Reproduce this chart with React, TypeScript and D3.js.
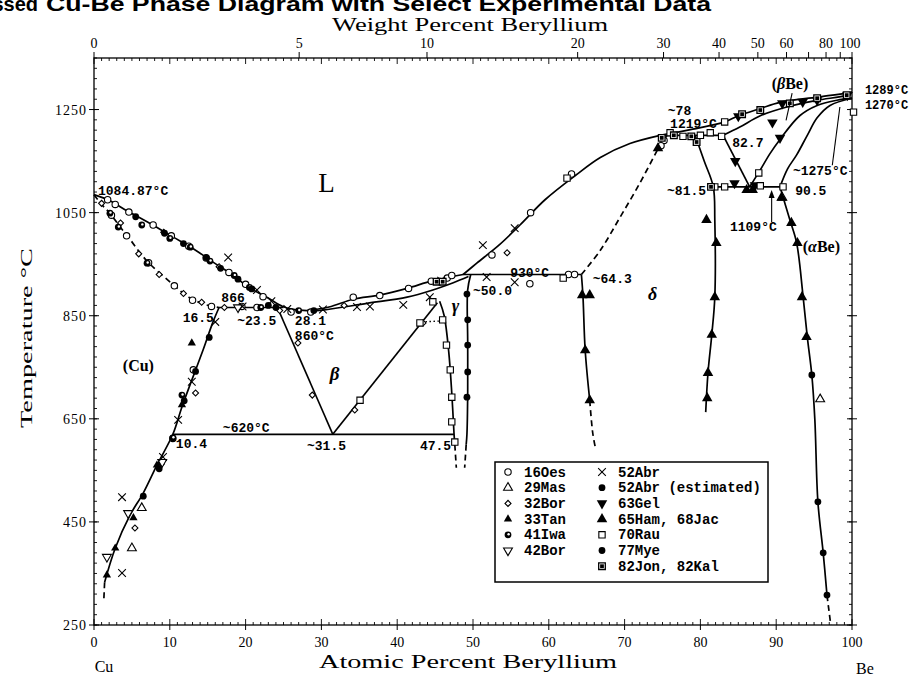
import * as d3 from "d3";

// ---- axes ----
const tempTicks = [250, 450, 650, 850, 1050, 1250];
const atTicks = [0, 10, 20, 30, 40, 50, 60, 70, 80, 90, 100];
const wtLabelTicks = [0, 5, 10, 20, 30, 40, 50, 60, 80, 100];
const wtExtraTicks = [70, 90];

// ---- phase boundaries [at.% Be, °C] ----
const cuLiquidus = [[0, 1084.87], [2.1, 1073], [4.4, 1053], [7.4, 1029], [10.4, 1003], [13.1, 980], [15.7, 954], [18.3, 929], [20.5, 904], [22.8, 886], [24.9, 868], [26.5, 862], [28.1, 860]];
const betaLiquidus = [[28.1, 860], [31, 867], [34.2, 882], [37.7, 890], [41.3, 903], [44.7, 918], [48.7, 930]];
const midLiquidus = [[48.7, 930], [50.5, 952], [53.5, 988], [56.2, 1026], [59.5, 1075], [63.5, 1122], [66.8, 1157], [70.7, 1184], [74.7, 1200]];
const beLiquidus = [[74.7, 1200], [79, 1212], [83.2, 1226], [85, 1238], [87.9, 1252], [90.5, 1264], [95.4, 1274], [99.3, 1282], [100, 1284]];
const betaSolidus = [[28.1, 860], [30.2, 861], [36, 874], [41.3, 886], [44.7, 900], [47.4, 914], [49.4, 926]];
const cuSolidus = [[0, 1084.87], [1, 1066], [2.1, 1049], [3.4, 1023], [4.4, 1005], [7, 956], [10.4, 911], [12.5, 886], [14.6, 872], [16.5, 866]];
const cuSolvus = [[1.4, 333], [2.8, 399], [4.75, 463], [6.5, 506], [8.3, 560], [10.4, 620], [11.6, 673], [12.9, 725], [14.4, 784], [15.7, 838], [16.5, 866]];
const cuSolvusLow = [[1.4, 333], [1.3, 300]];
const peritectic866 = [[16.5, 866], [25, 866]];
const betaLeft = [[24.2, 866], [31.5, 620]];
const betaRight = [[31.5, 620], [45.3, 875]];
const eutectoid620 = [[10.4, 620], [47.5, 620]];
const gammaLeft = [[45.6, 878], [46.2, 850], [46.8, 780], [47.2, 700], [47.5, 620], [47.6, 600]];
const gammaLeftLow = [[47.6, 600], [47.8, 555]];
const gammaRight = [[49.7, 930], [49.3, 900], [49.3, 800], [49.3, 700], [49.2, 620], [49.1, 600]];
const gammaRightLow = [[49.1, 600], [48.9, 555]];
const tieLine = [[43.2, 838], [46.1, 840]];
const peritectic930 = [[48.7, 930], [64.3, 930]];
const deltaLeft = [[64.3, 930], [64.5, 890], [64.8, 783], [65.4, 686]];
const deltaLeftLow = [[65.4, 686], [65.8, 622], [66.2, 590]];
const deltaSolidusDash = [[64.3, 930], [66.8, 977], [69.4, 1041], [72, 1107], [74.3, 1171]];
const deltaSolidusTop = [[74.3, 1171], [75.6, 1200]];
const peritectic1219 = [[74.7, 1200], [83.0, 1200]];
const deltaRight = [[79.3, 1200], [80.5, 1150], [81.7, 1100], [81.9, 1036], [81.9, 886], [81.5, 813], [81.0, 739], [80.7, 663]];
const eutectoid1109 = [[81.7, 1100], [90.5, 1100]];
const betaBeLeft = [[83.0, 1200], [86.5, 1100]];
const betaBeRight = [[86.5, 1100], [87.9, 1133], [89.2, 1165], [90.5, 1192], [93.1, 1238], [95.4, 1258], [98, 1268], [100, 1272]];
const alphaBeUpper = [[90.5, 1100], [91.5, 1135], [92.7, 1162], [94.1, 1200], [95.4, 1234], [97.1, 1258], [100, 1272]];
const alphaBeSolvus = [[90.5, 1100], [91.8, 1036], [92.7, 991], [93.5, 894], [94.1, 809], [94.7, 735], [95.1, 648], [95.5, 489], [96.2, 390], [96.7, 308]];
const alphaBeSolvusLow = [[96.7, 308], [97.2, 250]];
const betaBeSolidus = [[83.0, 1200], [85.2, 1216], [87.9, 1238], [91.4, 1255], [95.4, 1268], [99.3, 1278], [100, 1284]];

// ---- experimental points [at.% Be, °C] ----
const oes16 = [[1.8, 1075], [2.8, 1066], [4.6, 1051], [7.8, 1026], [10.2, 1005], [12.5, 985], [14.8, 962], [17.8, 934], [20.0, 911], [22.3, 887], [2.3, 1045], [4.3, 1005], [7.2, 953], [10.6, 908], [13.0, 880], [15.5, 868], [19.5, 868], [21.5, 866], [26.0, 857], [28.6, 857], [34.2, 886], [37.7, 889], [41.5, 903], [44.5, 917], [13.1, 745], [10.4, 612], [57.5, 912], [62.6, 930], [63.4, 930], [52.5, 968], [57.6, 1050], [63.0, 1125], [75.2, 1190], [46.6, 923], [47.2, 928], [74.8, 1180]];
const mas29 = [[6.3, 477], [5.0, 399], [95.8, 688], [90.8, 1079]];
const bor32 = [[13.4, 700], [5.4, 438], [26.9, 797], [28.8, 696], [43.4, 836], [34.4, 667], [54.5, 972], [1.0, 1068], [3.5, 1030], [5.9, 970], [8.6, 930], [11.8, 893], [14.2, 876], [9.2, 1012], [16.5, 945], [17.2, 866], [24.5, 860], [33.0, 870]];
const tan33 = [[12.9, 797], [2.8, 399], [1.7, 347], [11.6, 677], [8.3, 560], [5.2, 458]];
const iwa41 = [[6.3, 1026], [10.0, 1000], [12.7, 983], [15.3, 956], [2.1, 1049], [3.2, 1022], [7.0, 952], [10.4, 613], [11.6, 696], [8.9, 565], [22.0, 866], [27.0, 860], [18.5, 928], [20.5, 905]];
const bor42 = [[1.7, 382], [4.5, 467], [9.0, 566], [19.0, 866]];
const abr52 = [[17.7, 963], [21.5, 900], [23.4, 878], [3.7, 498], [3.7, 351], [9.1, 576], [11.1, 648], [12.9, 722], [16.0, 838], [30.2, 862], [34.7, 867], [36.4, 868], [40.8, 871], [44.3, 886], [51.3, 987], [55.5, 1020], [51.8, 925], [55.5, 915], [45.8, 918], [25.5, 863], [19.6, 868]];
const abr52est = [[5.5, 1042], [9.3, 1010], [11.8, 990], [14.8, 963], [16.7, 942], [19.0, 921], [20.8, 902], [6.5, 500], [8.6, 553], [11.9, 685], [13.4, 742], [15.2, 808], [23.0, 870], [24.0, 866], [29.0, 860]];
const gel63 = [[85.0, 1237], [90.8, 1262], [95.4, 1268], [90.5, 1195], [84.6, 1150], [84.5, 1107], [87.2, 1103], [89.5, 1225], [99.4, 1278], [93.5, 1265]];
const ham65 = [[64.4, 890], [65.4, 890], [64.8, 783], [65.4, 686], [80.8, 1036], [82.1, 991], [81.9, 886], [81.5, 813], [81.0, 739], [80.9, 690], [90.7, 1079], [92.0, 1030], [92.8, 991], [93.4, 886], [94.0, 809], [86.1, 1094], [86.9, 1094], [74.4, 1175]];
const rau70 = [[35.1, 686], [43.0, 836], [46.0, 842], [46.5, 793], [47.0, 745], [47.2, 692], [47.2, 644], [47.6, 605], [44.7, 877], [61.9, 923], [62.4, 1117], [76.0, 1205], [77.7, 1198], [80.0, 1200], [81.3, 1205], [82.8, 1198], [81.9, 1100], [83.2, 1100], [87.9, 1102], [90.9, 1100], [83.2, 1226], [87.7, 1127], [100.2, 1245]];
const mye77 = [[49.2, 892], [49.3, 842], [49.3, 793], [49.3, 741], [49.2, 692], [94.7, 735], [95.5, 489], [96.2, 390], [96.7, 308]];
const jon82 = [[87.9, 1249], [95.4, 1272], [99.3, 1278], [79.5, 1187], [76.5, 1200], [78.8, 1198], [81.4, 1100], [45.2, 916], [46.0, 916], [85.5, 1241], [91.8, 1262], [74.9, 1195]];

const solidLines = [cuLiquidus, betaLiquidus, midLiquidus, beLiquidus, betaSolidus, cuSolvus, peritectic866, betaLeft, betaRight, eutectoid620, gammaLeft, gammaRight, peritectic930, deltaLeft, deltaSolidusTop, peritectic1219, deltaRight, eutectoid1109, betaBeLeft, betaBeRight, alphaBeUpper, alphaBeSolvus, betaBeSolidus];
const dashedLines = [cuSolidus, cuSolvusLow, gammaLeftLow, gammaRightLow, deltaLeftLow, deltaSolidusDash, alphaBeSolvusLow];

const series = [
  { name: "16Oes", sym: "circleOpen", data: oes16, col: 0 },
  { name: "29Mas", sym: "triUpOpen", data: mas29, col: 0 },
  { name: "32Bor", sym: "diamondOpen", data: bor32, col: 0 },
  { name: "33Tan", sym: "triUpSmall", data: tan33, col: 0 },
  { name: "41Iwa", sym: "circleHalf", data: iwa41, col: 0 },
  { name: "42Bor", sym: "triDownOpen", data: bor42, col: 0 },
  { name: "52Abr", sym: "cross", data: abr52, col: 1 },
  { name: "52Abr (estimated)", sym: "circleFilled", data: abr52est, col: 1 },
  { name: "63Gel", sym: "triDownFilled", data: gel63, col: 1 },
  { name: "65Ham, 68Jac", sym: "triUpFilled", data: ham65, col: 1 },
  { name: "70Rau", sym: "squareOpen", data: rau70, col: 1 },
  { name: "77Mye", sym: "circleFilled", data: mye77, col: 1 },
  { name: "82Jon, 82Kal", sym: "squareHalf", data: jon82, col: 1 },
];

const wtToAt = (w: number) => {
  const be = w / 9.012, cu = (100 - w) / 63.546;
  return (100 * be) / (be + cu);
};

function Marker({ sym, cx, cy }: { sym: string; cx: number; cy: number }) {
  const p = (type: any, size: number) => d3.symbol().type(type).size(size)() as string;
  const t = `translate(${cx},${cy})`;
  const sw = 1.1;
  switch (sym) {
    case "circleOpen":
      return <circle cx={cx} cy={cy} r={3.2} fill="#fff" stroke="#000" strokeWidth={sw} />;
    case "circleFilled":
      return <circle cx={cx} cy={cy} r={3.4} fill="#000" />;
    case "circleHalf":
      return <g><circle cx={cx} cy={cy} r={3.4} fill="#000" /><circle cx={cx + 0.6} cy={cy - 0.6} r={1.2} fill="#fff" /></g>;
    case "triUpOpen":
      return <path d={p(d3.symbolTriangle, 34)} transform={t} fill="#fff" stroke="#000" strokeWidth={sw} />;
    case "triDownOpen":
      return <path d={p(d3.symbolTriangle, 34)} transform={`${t} rotate(180)`} fill="#fff" stroke="#000" strokeWidth={sw} />;
    case "triUpSmall":
      return <path d={p(d3.symbolTriangle, 30)} transform={t} fill="#000" />;
    case "triUpFilled":
      return <path d={p(d3.symbolTriangle, 48)} transform={t} fill="#000" />;
    case "triDownFilled":
      return <path d={p(d3.symbolTriangle, 48)} transform={`${t} rotate(180)`} fill="#000" />;
    case "diamondOpen":
      return <path d={p(d3.symbolSquare, 18)} transform={`${t} rotate(45)`} fill="#fff" stroke="#000" strokeWidth={sw} />;
    case "cross":
      return <path d={p(d3.symbolTimes, 40)} transform={t} fill="none" stroke="#000" strokeWidth={1.1} />;
    case "squareOpen":
      return <path d={p(d3.symbolSquare, 40)} transform={t} fill="#fff" stroke="#000" strokeWidth={sw} />;
    case "squareHalf":
      return <g><path d={p(d3.symbolSquare, 44)} transform={t} fill="#fff" stroke="#000" strokeWidth={1.3} /><path d={p(d3.symbolSquare, 14)} transform={t} fill="#000" /></g>;
  }
  return null;
}

export default function App() {
  const x = d3.scaleLinear().domain([0, 100]).range([94, 852]);
  const y = d3.scaleLinear().domain([250, 1350]).range([625, 58]);
  const line = d3.line<number[]>().x((d) => x(d[0])).y((d) => y(d[1])).curve(d3.curveCatmullRom.alpha(0.5));

  const serif = "Liberation Serif";
  const mono = "Liberation Mono";
  const [x0, x1] = x.range();
  const [yb, yt] = y.range();

  const minorAt = d3.range(0, 101, 1);
  const minorT = d3.range(250, 1351, 20);

  const lbl = (at: number, t: number, s: string, size = 13) => (
    <text x={x(at)} y={y(t)} fontFamily={mono} fontWeight="bold" fontSize={size}>{s}</text>
  );

  return (
    <svg width={914} height={679} style={{ position: "absolute", left: 0, top: 0, background: "#fff" }}>
      {/* title, cut at the top edge */}
      <text x={38} y={11} textAnchor="end" fontFamily="Liberation Sans" fontWeight="bold" fontSize={20}>Assessed</text>
      <text x={46} y={11} textLength={665} lengthAdjust="spacingAndGlyphs" fontFamily="Liberation Sans" fontWeight="bold" fontSize={20}>Cu-Be Phase Diagram with Select Experimental Data</text>

      {/* frame */}
      <rect x={x0} y={yt} width={x1 - x0} height={yb - yt} fill="none" stroke="#000" strokeWidth={1.3} />

      {/* bottom & top at.% ticks */}
      {minorAt.map((a) => (
        <g key={"a" + a} stroke="#000" strokeWidth={0.9}>
          <line x1={x(a)} x2={x(a)} y1={yb} y2={yb - (a % 10 === 0 ? 6 : 3)} />
          <line x1={x(a)} x2={x(a)} y1={yt} y2={yt + (a % 10 === 0 ? 6 : 3)} />
        </g>
      ))}
      {atTicks.map((a) => (
        <g key={"at" + a}>
          <line x1={x(a)} x2={x(a)} y1={yb} y2={yb + 5} stroke="#000" strokeWidth={1} />
          <text x={x(a)} y={yb + 22} textAnchor="middle" fontFamily={serif} fontSize={14}>{a}</text>
        </g>
      ))}
      {/* weight percent scale */}
      {[...wtLabelTicks, ...wtExtraTicks].map((w) => (
        <line key={"w" + w} x1={x(wtToAt(w))} x2={x(wtToAt(w))} y1={yt} y2={yt - 6} stroke="#000" strokeWidth={1} />
      ))}
      {wtLabelTicks.map((w) => (
        <text key={"wl" + w} x={x(wtToAt(w)) + (w === 100 ? -2 : 0)} y={yt - 10} textAnchor="middle" fontFamily={serif} fontSize={14}>{w}</text>
      ))}

      {/* temperature ticks */}
      {minorT.map((t) => (
        <g key={"t" + t} stroke="#000" strokeWidth={0.9}>
          <line x1={x0} x2={x0 + 3} y1={y(t)} y2={y(t)} />
          <line x1={x1} x2={x1 - 3} y1={y(t)} y2={y(t)} />
        </g>
      ))}
      {tempTicks.map((t) => (
        <g key={"tt" + t}>
          <line x1={x0 - 5} x2={x0 + 5} y1={y(t)} y2={y(t)} stroke="#000" strokeWidth={1} />
          <line x1={x1 - 5} x2={x1 + 5} y1={y(t)} y2={y(t)} stroke="#000" strokeWidth={1} />
          <text x={x0 - 7} y={y(t) + 5} textAnchor="end" fontFamily={serif} fontSize={14} letterSpacing={1}>{t}</text>
        </g>
      ))}

      {/* axis titles */}
      <text x={470} y={31} textAnchor="middle" textLength={276} lengthAdjust="spacingAndGlyphs" fontFamily={serif} fontSize={18}>Weight Percent Beryllium</text>
      <text x={468} y={668} textAnchor="middle" textLength={298} lengthAdjust="spacingAndGlyphs" fontFamily={serif} fontSize={18}>Atomic Percent Beryllium</text>
      <text transform="translate(32,338) rotate(-90)" textAnchor="middle" textLength={180} lengthAdjust="spacingAndGlyphs" fontFamily={serif} fontSize={16}>Temperature °C</text>
      <text x={x(0) + 10} y={672} textAnchor="middle" fontFamily={serif} fontSize={16}>Cu</text>
      <text x={x(100) + 13} y={674} textAnchor="middle" fontFamily={serif} fontSize={16}>Be</text>

      {/* phase boundaries */}
      {solidLines.map((d, i) => (
        <path key={"s" + i} d={line(d) as string} fill="none" stroke="#000" strokeWidth={1.7} />
      ))}
      {dashedLines.map((d, i) => (
        <path key={"d" + i} d={line(d) as string} fill="none" stroke="#000" strokeWidth={1.7} strokeDasharray="6 4" />
      ))}
      <path d={line(tieLine) as string} fill="none" stroke="#000" strokeWidth={1.4} strokeDasharray="1.5 2.5" />

      {/* experimental data */}
      {series.map((s) => (
        <g key={s.name}>
          {s.data.map((d, i) => <Marker key={i} sym={s.sym} cx={x(d[0])} cy={y(d[1])} />)}
        </g>
      ))}

      {/* leaders */}
      <line x1={x(92.1)} y1={y(1282)} x2={x(91.3)} y2={y(1229)} stroke="#000" strokeWidth={1.1} />
      <line x1={x(97.4)} y1={y(1142)} x2={x(98.4)} y2={y(1255)} stroke="#000" strokeWidth={1.1} />
      <line x1={x(89.4)} y1={y(1032)} x2={x(89.4)} y2={y(1084)} stroke="#000" strokeWidth={1.1} />
      <path d={`M${x(89.4)},${y(1094)} l-3,8 l6,0 z`} fill="#000" />

      {/* annotations */}
      {lbl(0.53, 1084, "1084.87°C")}
      {lbl(16.8, 877, "866")}
      {lbl(11.7, 838, "16.5")}
      {lbl(18.9, 832, "~23.5")}
      {lbl(26.5, 832, "28.1")}
      {lbl(26.5, 803, "860°C")}
      {lbl(17.0, 624, "~620°C")}
      {lbl(10.8, 593, "10.4")}
      {lbl(28.1, 590, "~31.5")}
      {lbl(43.0, 590, "47.5")}
      {lbl(50.0, 890, "~50.0")}
      {lbl(54.9, 925, "930°C")}
      {lbl(65.8, 913, "~64.3")}
      {lbl(75.7, 1240, "~78")}
      {lbl(76.0, 1214, "1219°C")}
      {lbl(84.2, 1177, "82.7")}
      {lbl(101.7, 1280, "1289°C", 12)}
      {lbl(101.7, 1251, "1270°C", 12)}
      {lbl(92.2, 1123, "~1275°C")}
      {lbl(75.6, 1084, "~81.5")}
      {lbl(92.5, 1084, "90.5")}
      {lbl(83.9, 1014, "1109°C")}

      <text x={x(29.6)} y={y(1090)} fontFamily={serif} fontSize={27}>L</text>
      <text x={x(3.8)} y={y(743)} fontFamily={serif} fontWeight="bold" fontSize={16}>(Cu)</text>
      <text x={x(31.1)} y={y(725)} fontFamily={serif} fontStyle="italic" fontWeight="bold" fontSize={19}>β</text>
      <text x={x(47.2)} y={y(857)} fontFamily={serif} fontStyle="italic" fontWeight="bold" fontSize={18}>γ</text>
      <text x={x(73.1)} y={y(880)} fontFamily={serif} fontStyle="italic" fontWeight="bold" fontSize={18}>δ</text>
      <text x={x(89.4)} y={y(1290)} fontFamily={serif} fontWeight="bold" fontSize={16}>(<tspan fontStyle="italic">β</tspan>Be)</text>
      <text x={x(93.5)} y={y(974)} fontFamily={serif} fontWeight="bold" fontSize={16}>(<tspan fontStyle="italic">α</tspan>Be)</text>

      {/* legend */}
      <rect x={495} y={462} width={273} height={120} fill="#fff" stroke="#000" strokeWidth={1.5} />
      {series.map((s) => {
        const idx = series.filter((q) => q.col === s.col).indexOf(s);
        const cy = 472 + idx * 15.7;
        const sx = s.col === 0 ? 508 : 602;
        return (
          <g key={"lg" + s.name}>
            <Marker sym={s.sym} cx={sx} cy={cy} />
            <text x={sx + 16} y={cy + 4.5} fontFamily={mono} fontWeight="bold" fontSize={14}>{s.name}</text>
          </g>
        );
      })}
    </svg>
  );
}
